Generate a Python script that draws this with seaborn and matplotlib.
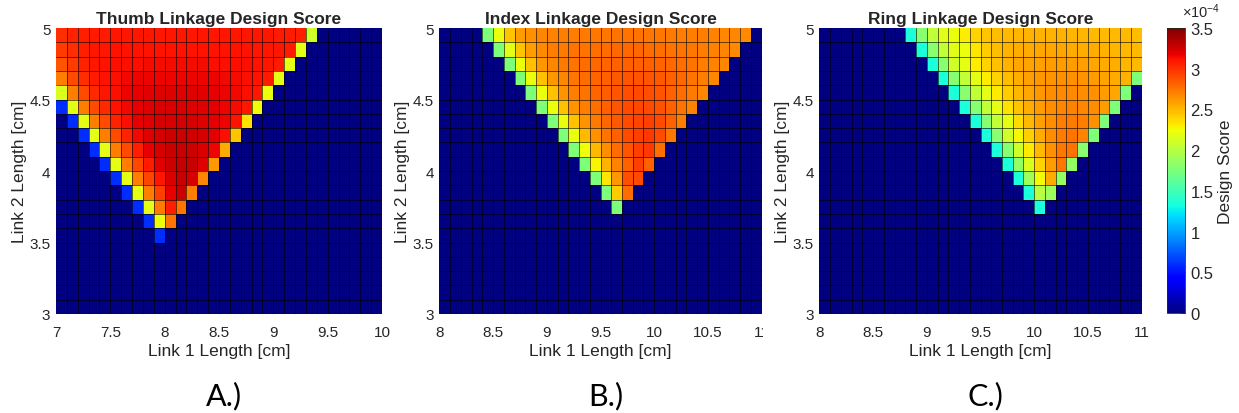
import numpy as np
import pandas as pd
import matplotlib
matplotlib.use("Agg")
import matplotlib.pyplot as plt
import seaborn as sns
from matplotlib.transforms import Bbox, TransformedBbox

# ---------------- data (design score, units of 1e-4) ----------------
# grid: 30 columns (link 1, step 0.1 cm) x 20 rows (link 2, from 5.0 cm down, step 0.1 cm)
N_ROWS, N_COLS, STEP = 20, 30, 0.1
Y_TOP = 5.0

thumb_x0 = 7.0
thumb_start = [0, 0, 0, 0, 0, 0, 1, 2, 3, 4, 5, 6, 7, 8, 9]
thumb_rows = [
    [3.02, 3.05, 3.07, 3.08, 3.08, 3.09, 3.09, 3.09, 3.09, 3.09, 3.09, 3.09, 3.09, 3.09, 3.09, 3.09, 3.09, 3.09, 3.09, 3.09, 3.08, 3.08, 3.07, 2.10],
    [2.96, 3.02, 3.07, 3.09, 3.10, 3.11, 3.11, 3.11, 3.11, 3.11, 3.11, 3.11, 3.11, 3.11, 3.11, 3.11, 3.11, 3.11, 3.10, 3.10, 3.09, 3.08, 2.20],
    [2.86, 2.96, 3.05, 3.09, 3.11, 3.13, 3.13, 3.13, 3.14, 3.14, 3.14, 3.14, 3.14, 3.14, 3.13, 3.13, 3.13, 3.12, 3.11, 3.10, 3.08, 2.20],
    [2.71, 2.91, 3.02, 3.08, 3.11, 3.13, 3.15, 3.16, 3.16, 3.17, 3.17, 3.17, 3.17, 3.16, 3.16, 3.15, 3.14, 3.13, 3.11, 3.08, 2.20],
    [2.15, 2.71, 2.91, 3.03, 3.09, 3.13, 3.16, 3.18, 3.19, 3.20, 3.20, 3.20, 3.20, 3.19, 3.18, 3.17, 3.15, 3.13, 3.09, 2.22],
    [0.60, 2.20, 2.71, 2.91, 3.03, 3.11, 3.15, 3.18, 3.21, 3.22, 3.22, 3.22, 3.21, 3.20, 3.19, 3.17, 3.14, 3.10, 2.25],
    [0.60, 2.20, 2.71, 2.91, 3.05, 3.13, 3.18, 3.21, 3.23, 3.24, 3.24, 3.23, 3.21, 3.19, 3.16, 3.11, 2.35],
    [0.60, 2.20, 2.71, 2.91, 3.05, 3.15, 3.21, 3.24, 3.26, 3.26, 3.25, 3.23, 3.19, 3.13, 2.45],
    [0.60, 2.20, 2.71, 2.91, 3.07, 3.18, 3.23, 3.27, 3.28, 3.26, 3.22, 3.16, 2.55],
    [0.60, 2.20, 2.71, 2.92, 3.08, 3.19, 3.26, 3.29, 3.27, 3.21, 2.62],
    [0.60, 2.20, 2.71, 2.93, 3.10, 3.22, 3.28, 3.24, 2.68],
    [0.60, 2.20, 2.71, 2.94, 3.18, 3.26, 2.72],
    [0.60, 2.20, 2.73, 3.07, 2.75],
    [0.60, 2.22, 2.75],
    [0.60],
]

index_x0 = 8.0
index_start = [4, 5, 6, 7, 8, 9, 10, 11, 12, 13, 14, 15, 16]
index_rows = [
    [1.75, 2.22, 2.45, 2.60, 2.65, 2.68, 2.70, 2.71, 2.72, 2.73, 2.74, 2.74, 2.75, 2.75, 2.75, 2.74, 2.74, 2.73, 2.72, 2.72, 2.71, 2.70, 2.69, 2.68, 2.67],
    [1.75, 2.18, 2.45, 2.60, 2.67, 2.71, 2.73, 2.75, 2.76, 2.77, 2.78, 2.79, 2.79, 2.79, 2.78, 2.77, 2.76, 2.75, 2.74, 2.72, 2.70, 2.69, 2.67],
    [1.75, 2.22, 2.47, 2.62, 2.69, 2.73, 2.76, 2.78, 2.80, 2.81, 2.83, 2.83, 2.83, 2.82, 2.81, 2.79, 2.77, 2.75, 2.72, 2.70, 2.68],
    [1.75, 2.22, 2.47, 2.62, 2.69, 2.74, 2.78, 2.81, 2.83, 2.85, 2.86, 2.87, 2.86, 2.85, 2.83, 2.79, 2.75, 2.72, 2.68],
    [1.75, 2.22, 2.47, 2.63, 2.71, 2.76, 2.81, 2.84, 2.87, 2.89, 2.90, 2.89, 2.87, 2.83, 2.78, 2.73, 2.69],
    [1.75, 2.22, 2.47, 2.63, 2.71, 2.77, 2.83, 2.87, 2.90, 2.92, 2.91, 2.88, 2.83, 2.76, 2.70],
    [1.75, 2.22, 2.47, 2.63, 2.73, 2.79, 2.85, 2.90, 2.93, 2.94, 2.91, 2.83, 2.72],
    [1.75, 2.22, 2.49, 2.65, 2.75, 2.83, 2.90, 2.95, 2.97, 2.91, 2.74],
    [1.75, 2.24, 2.49, 2.66, 2.78, 2.87, 2.95, 2.97, 2.77],
    [1.75, 2.27, 2.52, 2.70, 2.83, 2.95, 2.82],
    [1.75, 2.33, 2.62, 2.89, 2.91],
    [1.75, 2.42, 2.78],
    [1.75],
]

ring_x0 = 8.0
ring_start = [8, 9, 10, 11, 12, 13, 14, 15, 16, 17, 18, 19, 20]
ring_rows = [
    [1.35, 1.80, 2.05, 2.18, 2.22, 2.30, 2.40, 2.45, 2.48, 2.50, 2.51, 2.52, 2.52, 2.52, 2.52, 2.51, 2.51, 2.50, 2.50, 2.49, 2.49, 2.48],
    [1.35, 1.80, 2.05, 2.18, 2.22, 2.33, 2.42, 2.48, 2.52, 2.54, 2.55, 2.56, 2.56, 2.56, 2.55, 2.54, 2.53, 2.52, 2.51, 2.50, 2.49],
    [1.35, 1.80, 2.10, 2.20, 2.30, 2.40, 2.47, 2.52, 2.56, 2.58, 2.59, 2.60, 2.60, 2.60, 2.59, 2.57, 2.55, 2.53, 2.51, 2.49],
    [1.35, 1.80, 2.05, 2.20, 2.30, 2.40, 2.48, 2.54, 2.59, 2.62, 2.63, 2.64, 2.64, 2.63, 2.61, 2.58, 2.55, 2.52, 1.75],
    [1.35, 1.80, 2.05, 2.20, 2.32, 2.43, 2.51, 2.57, 2.62, 2.66, 2.67, 2.67, 2.66, 2.64, 2.61, 2.57, 1.75],
    [1.35, 1.80, 2.05, 2.20, 2.34, 2.45, 2.54, 2.61, 2.66, 2.69, 2.70, 2.69, 2.66, 2.60, 1.75],
    [1.35, 1.80, 2.05, 2.20, 2.37, 2.49, 2.59, 2.66, 2.71, 2.73, 2.71, 2.65, 1.75],
    [1.35, 1.80, 2.10, 2.26, 2.41, 2.55, 2.66, 2.73, 2.76, 2.70, 1.75],
    [1.35, 1.80, 2.10, 2.32, 2.50, 2.64, 2.74, 2.76, 1.80],
    [1.35, 1.85, 2.15, 2.40, 2.60, 2.74, 1.85],
    [1.35, 1.90, 2.25, 2.55, 1.85],
    [1.35, 2.00, 1.90],
    [1.35],
]

titles = ["Thumb Linkage Design Score", "Index Linkage Design Score", "Ring Linkage Design Score"]
panel_letters = ["A.)", "B.)", "C.)"]
xticks_a = [7, 7.5, 8, 8.5, 9, 9.5, 10]
xticks_bc = [8, 8.5, 9, 9.5, 10, 10.5, 11]
yticks = [3, 3.5, 4, 4.5, 5]
cbar_ticks = [0, 0.5, 1, 1.5, 2, 2.5, 3, 3.5]
VMIN, VMAX = 0.0, 3.5


def build(x0, starts, rows):
    m = np.zeros((N_ROWS, N_COLS))
    for r, (s, vals) in enumerate(zip(starts, rows)):
        m[r, s:s + len(vals)] = vals
    cols = [round(x0 + STEP * i, 2) for i in range(N_COLS)]
    idx = [round(Y_TOP - STEP * j, 2) for j in range(N_ROWS)]
    return pd.DataFrame(m, index=idx, columns=cols)


panels = [
    (build(thumb_x0, thumb_start, thumb_rows), thumb_x0, xticks_a),
    (build(index_x0, index_start, index_rows), index_x0, xticks_bc),
    (build(ring_x0, ring_start, ring_rows), ring_x0, xticks_bc),
]

# ---------------- figure ----------------
sns.set_style("white")
plt.rcParams["font.family"] = ["Liberation Sans", "DejaVu Sans"]
plt.rcParams["mathtext.fontset"] = "custom"
plt.rcParams["mathtext.rm"] = "Liberation Sans"
plt.rcParams["mathtext.it"] = "Liberation Sans:italic"

W, H = 1239, 414
fig = plt.figure(figsize=(W / 100, H / 100), dpi=100)

ax_px = [(56, 382), (439.3, 761.7), (819.3, 1141.7)]
top_px, bot_px = 29, 315
axes = []
for (l, r) in ax_px:
    axes.append(fig.add_axes([l / W, (H - bot_px) / H, (r - l) / W, (bot_px - top_px) / H]))
cax = fig.add_axes([1167 / W, (H - 314) / H, 18 / W, 285 / H])

TXT = "#262626"
for i, (ax, (df, x0, xt)) in enumerate(zip(axes, panels)):
    sns.heatmap(df, ax=ax, cmap="jet", vmin=VMIN, vmax=VMAX, linewidths=0,
                cbar=(i == 2), cbar_ax=cax if i == 2 else None,
                xticklabels=False, yticklabels=False)
    # faceted cell edges
    for k in range(1, N_ROWS):
        ax.axhline(k, color="black", lw=0.6, alpha=0.7, zorder=3, snap=True)
    for k in range(1, N_COLS):
        ax.axvline(k, color="black", lw=0.6, alpha=0.7, zorder=3, snap=True)
    ax.set_xticks([(t - x0) / STEP for t in xt])
    ax.set_xticklabels([f"{t:g}" for t in xt])
    ax.set_yticks([(Y_TOP - t) / STEP for t in yticks])
    ax.set_yticklabels([f"{t:g}" for t in yticks])
    ax.tick_params(axis="x", length=0, pad=8, labelsize=11, colors=TXT, rotation=0)
    ax.tick_params(axis="y", length=0, pad=4, labelsize=11, colors=TXT, rotation=0)
    ax.set_xlabel("Link 1 Length [cm]", fontsize=12.5, color=TXT, labelpad=3)
    ax.set_ylabel("Link 2 Length [cm]", fontsize=12.5, color=TXT, labelpad=2)
    ax.set_title(titles[i], fontsize=12.5, fontweight="bold", pad=3.5)
    cx = (ax_px[i][0] + ax_px[i][1]) / 2 + 5
    fig.text(cx / W, (H - 396) / H, panel_letters[i], fontsize=22,
             family=["Lato", "DejaVu Sans"], ha="center", va="center", color="black")

# the "11" tick label of panel B is partly hidden by panel C in the original
fig.canvas.draw()
lab = axes[1].xaxis.get_major_ticks()[-1].label1
lab.set_clip_box(TransformedBbox(Bbox.from_extents(0, 0, 763 / W, 1), fig.transFigure))
lab.set_clip_on(True)

cbar = axes[2].collections[0].colorbar
cbar.set_ticks(cbar_ticks)
cbar.set_ticklabels([f"{t:g}" for t in cbar_ticks])
cbar.ax.tick_params(direction="in", length=3, width=0.6, labelsize=12, pad=4, colors=TXT)
cbar.set_label("Design Score", fontsize=12.5, color=TXT, labelpad=3)
cbar.outline.set_linewidth(0.6)
fig.text(1182 / W, (H - 12) / H, r"$\times10^{-4}$", fontsize=10.5, color=TXT,
         ha="left", va="center")

fig.savefig("out.png", dpi=100, facecolor="white")
